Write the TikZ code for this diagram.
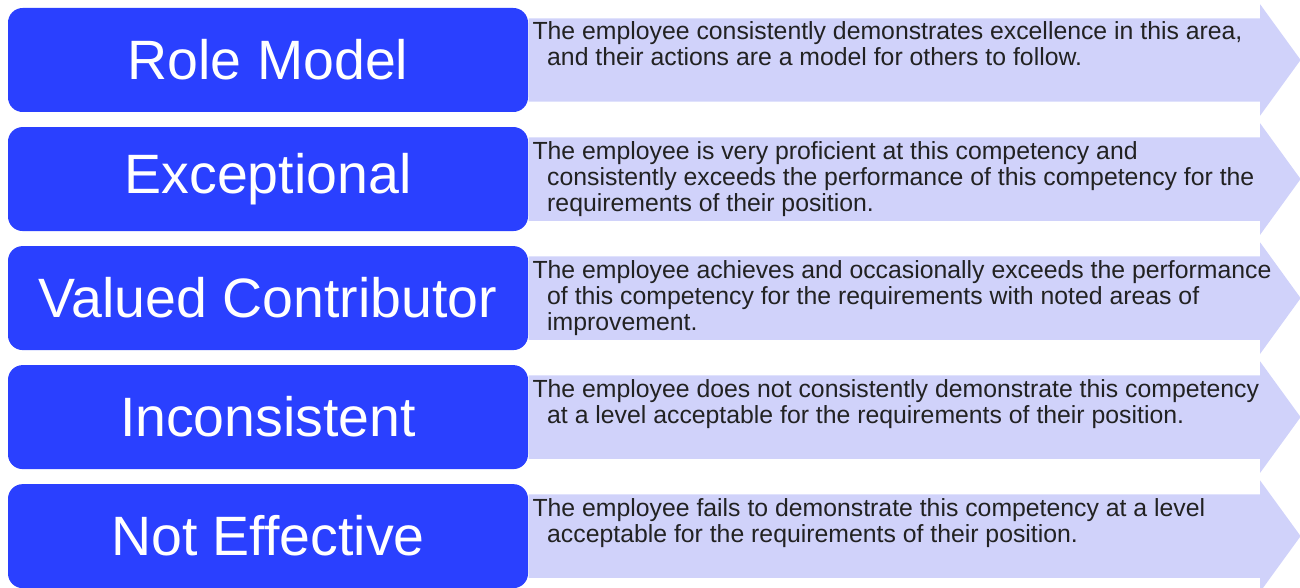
\documentclass[tikz,border=0pt]{standalone}
\usepackage{fontspec}
\setmainfont{Liberation Sans}
\usepackage{xcolor}
\definecolor{colorLevel}{HTML}{2A40FF}
\definecolor{colorBand}{HTML}{D0D2FA}
\definecolor{colorNote}{HTML}{222222}
\usetikzlibrary{positioning, shapes.arrows}
\newcommand{\ind}{\hspace*{11pt}}

\begin{document}
\begin{tikzpicture}[x=0.75pt, y=-0.75pt, node distance=10.875pt,
  level/.style={rectangle, rounded corners=11pt, fill=colorLevel, text=white, minimum width=390pt, minimum height=78pt, inner sep=0pt, font=\fontsize{41.6}{48}\selectfont},
  band/.style={single arrow, fill=colorBand, anchor=west, minimum height=579pt, inner xsep=0pt, inner ysep=31.1pt, single arrow head extend=10.5pt, single arrow tip angle=108},
  note/.style={anchor=north west, align=left, inner sep=0pt, text=colorNote, font=\fontsize{18.6}{19.5}\selectfont}]
\useasboundingbox (0,0) rectangle (1300,588);
% levels
\node[level] (rolemodel) at (268,60) {Role Model};
\node[level, below=of rolemodel] (exceptional) {Exceptional};
\node[level, below=of exceptional] (valued) {Valued Contributor};
\node[level, below=of valued] (inconsistent) {Inconsistent};
\node[level, below=of inconsistent] (noteffective) {Not Effective};
% bands
\node[band] (rolemodelband) at (rolemodel.east) {};
\node[band] (exceptionalband) at (exceptional.east) {};
\node[band] (valuedband) at (valued.east) {};
\node[band] (inconsistentband) at (inconsistent.east) {};
\node[band] (noteffectiveband) at (noteffective.east) {};
% descriptions
\node[note] (rolemodelnote) at ([xshift=3pt, yshift=-10.5pt]rolemodel.north east) {The employee consistently demonstrates excellence in this area,\\\ind and their actions are a model for others to follow.};
\node[note] (exceptionalnote) at ([xshift=3pt, yshift=-10.5pt]exceptional.north east) {The employee is very proficient at this competency and\\\ind consistently exceeds the performance of this competency for the\\\ind requirements of their position.};
\node[note] (valuednote) at ([xshift=3pt, yshift=-10.5pt]valued.north east) {The employee achieves and occasionally exceeds the performance\\\ind of this competency for the requirements with noted areas of\\\ind improvement.};
\node[note] (inconsistentnote) at ([xshift=3pt, yshift=-10.5pt]inconsistent.north east) {The employee does not consistently demonstrate this competency\\\ind at a level acceptable for the requirements of their position.};
\node[note] (noteffectivenote) at ([xshift=3pt, yshift=-10.5pt]noteffective.north east) {The employee fails to demonstrate this competency at a level\\\ind acceptable for the requirements of their position.};
\end{tikzpicture}
\end{document}
